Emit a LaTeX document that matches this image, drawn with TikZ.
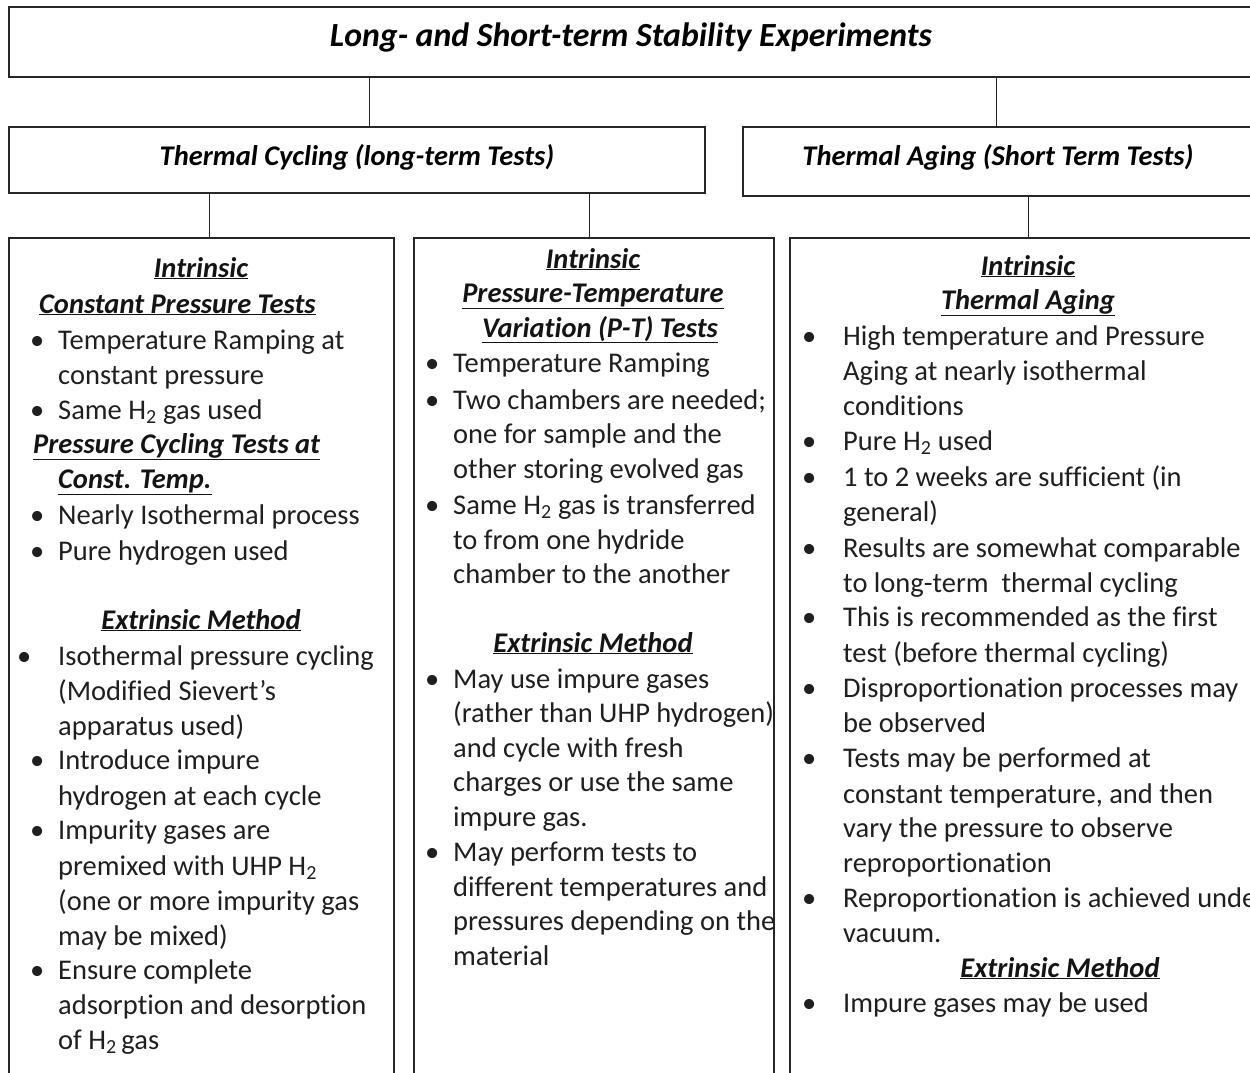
\documentclass[tikz,border=0pt]{standalone}
\usepackage{fontspec}
\setmainfont{Carlito}[Ligatures=NoCommon]
\begin{document}
\begin{tikzpicture}[x=1pt,y=-1pt,
  box/.style={draw=black!85, line width=1.1pt, inner sep=0pt, outer sep=0pt, anchor=north west},
  txt/.style={anchor=base west, inner sep=0pt, text=black!88, font=\fontsize{28.5}{35}\selectfont},
  ctxt/.style={anchor=base, inner sep=0pt, text=black!92, font=\fontsize{28.5}{35}\selectfont\bfseries\itshape},
  hd/.style={anchor=base, inner sep=0pt, text=black, font=\fontsize{28.5}{35}\selectfont\bfseries\itshape},
  conn/.style={draw=black!85, line width=1pt}]
\newcommand\bul{\llap{\textbullet\hspace{14pt}}}
\newcommand\bulw{\llap{\textbullet\hspace{27pt}}}
\newcommand\ul[1]{\underline{#1}}
\useasboundingbox (0,0) rectangle (1250,1073);
\clip (0,0) rectangle (1250,1073);
% boxes
\node[box, minimum width=1244pt, minimum height=70pt] (top) at (9,7) {};
\node[box, minimum width=696pt, minimum height=66pt] (tc) at (9,127) {};
\node[box, minimum width=510pt, minimum height=69pt] (ta) at (743,127) {};
\node[box, minimum width=385pt, minimum height=860pt] (c1) at (9,238) {};
\node[box, minimum width=360pt, minimum height=860pt] (c2) at (414,238) {};
\node[box, minimum width=480pt, minimum height=860pt] (c3) at (790,238) {};
% titles
\node[hd, font=\fontsize{33.8}{35}\selectfont\bfseries\itshape] (ttop) at (631,47) {Long- and Short-term Stability Experiments};
\node[hd] (ttc) at (357,165) {Thermal Cycling (long-term Tests)};
\node[hd] (tta) at (998,165) {Thermal Aging (Short Term Tests)};
% connectors
\coordinate (x1) at (369,0);
\coordinate (x2) at (996,0);
\coordinate (x3) at (209,0);
\coordinate (x4) at (589,0);
\coordinate (x5) at (1028,0);
\draw[conn] (top.south -| x1) -- (tc.north -| x1);
\draw[conn] (top.south -| x2) -- (ta.north -| x2);
\draw[conn] (tc.south -| x3) -- (c1.north -| x3);
\draw[conn] (tc.south -| x4) -- (c2.north -| x4);
\draw[conn] (ta.south -| x5) -- (c3.north -| x5);
% column 1
\node[ctxt] (a1) at (201,277) {\ul{Intrinsic}};
\node[ctxt, anchor=base west] (a2) at (39,313) {\ul{Constant Pressure Tests}};
\node[txt] (a3) at (58,349) {\bul Temperature Ramping at};
\node[txt] (a4) at (58,384) {constant pressure};
\node[txt] (a5) at (58,419) {\bul Same H\textsubscript{2} gas used};
\node[ctxt, anchor=base west] (a6) at (33,453) {\ul{Pressure Cycling Tests at}};
\node[ctxt, anchor=base west] (a7) at (58,488) {\ul{Const. Temp.}};
\node[txt] (a8) at (58,524) {\bul Nearly Isothermal process};
\node[txt] (a9) at (58,560) {\bul Pure hydrogen used};
\node[ctxt] (a10) at (201,629) {\ul{Extrinsic Method}};
\node[txt] (a11) at (58,665) {\bulw Isothermal pressure cycling};
\node[txt] (a12) at (58,700) {(Modified Sievert’s};
\node[txt] (a13) at (58,735) {apparatus used)};
\node[txt] (a14) at (58,769) {\bul Introduce impure};
\node[txt] (a15) at (58,805) {hydrogen at each cycle};
\node[txt] (a16) at (58,839) {\bul Impurity gases are};
\node[txt] (a17) at (58,875) {premixed with UHP H\textsubscript{2}};
\node[txt] (a18) at (58,910) {(one or more impurity gas};
\node[txt] (a19) at (58,945) {may be mixed)};
\node[txt] (a20) at (58,979) {\bul Ensure complete};
\node[txt] (a21) at (58,1014) {adsorption and desorption};
\node[txt] (a22) at (58,1049) {of H\textsubscript{2}\,gas};
% column 2
\node[ctxt] (b1) at (593,268) {\ul{Intrinsic}};
\node[ctxt] (b2) at (593,302) {\ul{Pressure-Temperature}};
\node[ctxt] (b3) at (600,337) {\ul{Variation (P-T) Tests}};
\node[txt] (b4) at (453,372) {\bul Temperature Ramping};
\node[txt] (b5) at (453,409) {\bul Two chambers are needed;};
\node[txt] (b6) at (453,443) {one for sample and the};
\node[txt] (b7) at (453,478) {other storing evolved gas};
\node[txt] (b8) at (453,514) {\bul Same H\textsubscript{2} gas is transferred};
\node[txt] (b9) at (453,549) {to from one hydride};
\node[txt] (b10) at (453,583) {chamber to the another};
\node[ctxt] (b11) at (593,652) {\ul{Extrinsic Method}};
\node[txt] (b12) at (453,688) {\bul May use impure gases};
\node[txt] (b13) at (453,722) {(rather than UHP hydrogen)};
\node[txt] (b14) at (453,757) {and cycle with fresh};
\node[txt] (b15) at (453,791) {charges or use the same};
\node[txt] (b16) at (453,826) {impure gas.};
\node[txt] (b17) at (453,861) {\bul May perform tests to};
\node[txt] (b18) at (453,896) {different temperatures and};
\node[txt] (b19) at (453,930) {pressures depending on the};
\node[txt] (b20) at (453,965) {material};
% column 3
\node[ctxt] (r1) at (1028,275) {\ul{Intrinsic}};
\node[ctxt] (r2) at (1028,309) {\ul{Thermal Aging}};
\node[txt] (r3) at (843,345) {\bulw High temperature and Pressure};
\node[txt] (r4) at (843,380) {Aging at nearly isothermal};
\node[txt] (r5) at (843,415) {conditions};
\node[txt] (r6) at (843,450) {\bulw Pure H\textsubscript{2} used};
\node[txt] (r7) at (843,486) {\bulw 1 to 2 weeks are sufficient (in};
\node[txt] (r8) at (843,521) {general)};
\node[txt] (r9) at (843,557) {\bulw Results are somewhat comparable};
\node[txt] (r10) at (843,592) {to long-term\ \ thermal cycling};
\node[txt] (r11) at (843,626) {\bulw This is recommended as the first};
\node[txt] (r12) at (843,662) {test (before thermal cycling)};
\node[txt] (r13) at (843,697) {\bulw Disproportionation processes may};
\node[txt] (r14) at (843,732) {be observed};
\node[txt] (r15) at (843,767) {\bulw Tests may be performed at};
\node[txt] (r16) at (843,803) {constant temperature, and then};
\node[txt] (r17) at (843,837) {vary the pressure to observe};
\node[txt] (r18) at (843,872) {reproportionation};
\node[txt] (r19) at (843,907) {\bulw Reproportionation is achieved under};
\node[txt] (r20) at (843,942) {vacuum.};
\node[ctxt] (r21) at (1060,977) {\ul{Extrinsic Method}};
\node[txt] (r22) at (843,1012) {\bulw Impure gases may be used};
\end{tikzpicture}
\end{document}
